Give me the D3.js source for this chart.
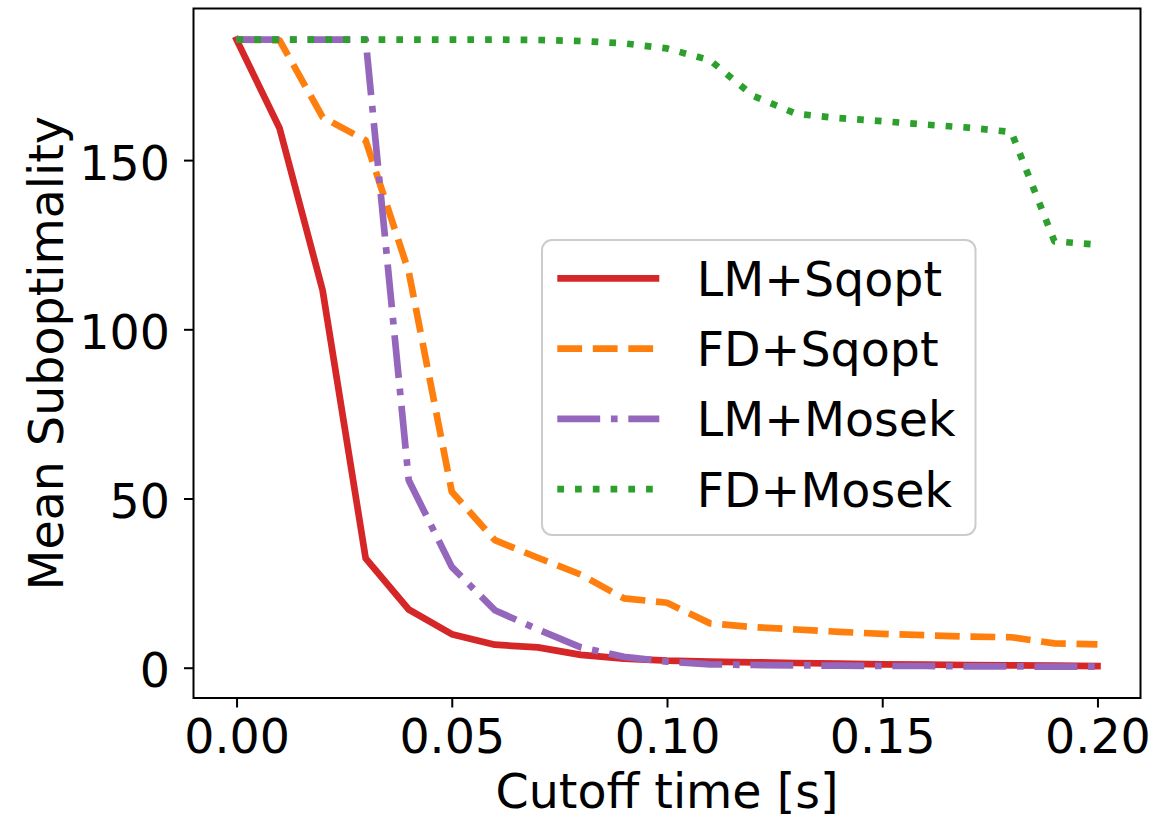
<!DOCTYPE html>
<html>
<head>
<meta charset="utf-8">
<script src="https://cdn.jsdelivr.net/npm/d3@7"></script>
<style>
  body { margin: 0; background: #fff; }
  svg { display: block; }
  text { font-family: "DejaVu Sans", sans-serif; fill: #000; }
</style>
</head>
<body>
<svg id="chart" width="1176" height="815"></svg>
<script>
// ---- data ----
const cutoffTimes = [0.00, 0.01, 0.02, 0.03, 0.04, 0.05, 0.06, 0.07, 0.08, 0.09, 0.10,
                     0.11, 0.12, 0.13, 0.14, 0.15, 0.16, 0.17, 0.18, 0.19, 0.20];
const lmSqopt = [185.6, 159.4, 111.5, 32.3, 17.2, 9.9, 6.8, 6.0, 3.8, 2.7, 2.1,
                 1.8, 1.6, 1.4, 1.2, 1.0, 0.9, 0.8, 0.7, 0.6, 0.5];
const fdSqopt = [185.6, 185.4, 162.7, 155.8, 117.0, 52.0, 37.7, 32.5, 27.5, 20.5, 19.2,
                 13.1, 12.0, 11.3, 10.6, 10.0, 9.6, 9.2, 9.0, 7.2, 6.9];
const lmMosek = [185.6, 185.6, 185.6, 185.6, 55.4, 29.8, 17.0, 11.3, 6.0, 3.2, 1.8,
                 1.0, 0.8, 0.7, 0.6, 0.5, 0.5, 0.4, 0.4, 0.3, 0.3];
const fdMosek = [185.6, 185.6, 185.6, 185.6, 185.6, 185.6, 185.6, 185.5, 185.2, 184.5, 183.0,
                 179.5, 169.0, 163.7, 162.4, 161.5, 160.5, 159.6, 158.3, 126.0, 125.0];
const seriesNames = ["LM+Sqopt", "FD+Sqopt", "LM+Mosek", "FD+Mosek"];
const xTicks = [0.00, 0.05, 0.10, 0.15, 0.20];
const yTicks = [0, 50, 100, 150];
const xLabel = "Cutoff time [s]";
const yLabel = "Mean Suboptimality";

// ---- layout ----
const svg = d3.select("#chart");
const plotLeft = 193.5, plotRight = 1140.5, plotTop = 8.5, plotBottom = 698;
const lw = 6.7;
const fontSize = 47.5;

const x = d3.scaleLinear().domain([-0.01, 0.21]).range([plotLeft, plotRight]);
const y = d3.scaleLinear().domain([-8.95, 194.8]).range([plotBottom, plotTop]);

svg.append("rect").attr("width", 1176).attr("height", 815).attr("fill", "#fff");

const styles = [
  { color: "#d62728", dash: null, cap: "square" },
  { color: "#ff7f0e", dash: [3.7 * lw, 1.6 * lw], cap: "butt" },
  { color: "#9467bd", dash: [6.4 * lw, 1.6 * lw, 1 * lw, 1.6 * lw], cap: "butt" },
  { color: "#2ca02c", dash: [1 * lw, 1.65 * lw], cap: "butt" }
];
const seriesValues = [lmSqopt, fdSqopt, lmMosek, fdMosek];

const line = d3.line()
  .x((d, i) => x(cutoffTimes[i]))
  .y(d => y(d));

seriesValues.forEach((vals, k) => {
  const st = styles[k];
  svg.append("path")
    .datum(vals)
    .attr("d", line)
    .attr("fill", "none")
    .attr("stroke", st.color)
    .attr("stroke-width", lw)
    .attr("stroke-linejoin", "round")
    .attr("stroke-linecap", st.cap)
    .attr("stroke-dasharray", st.dash ? st.dash.join(",") : null);
});

// ---- axes ----
const xAxis = d3.axisBottom(x)
  .tickValues(xTicks)
  .tickFormat(d3.format(".2f"))
  .tickSize(9.5).tickSizeOuter(0).tickPadding(11.5);
const gx = svg.append("g").attr("transform", `translate(0,${plotBottom})`).call(xAxis);

const yAxis = d3.axisLeft(y)
  .tickValues(yTicks)
  .tickFormat(d3.format("d"))
  .tickSize(9.5).tickSizeOuter(0).tickPadding(14);
const gy = svg.append("g").attr("transform", `translate(${plotLeft},0)`).call(yAxis);

[gx, gy].forEach(g => {
  g.select(".domain").remove();
  g.selectAll(".tick line").attr("stroke", "#000").attr("stroke-width", 2);
  g.selectAll(".tick text")
    .attr("font-family", "DejaVu Sans, sans-serif")
    .attr("font-size", fontSize)
    .attr("fill", "#000");
});
gy.selectAll(".tick text").attr("dy", "0.4em");

// frame
svg.append("rect")
  .attr("x", plotLeft).attr("y", plotTop)
  .attr("width", plotRight - plotLeft).attr("height", plotBottom - plotTop)
  .attr("fill", "none").attr("stroke", "#000").attr("stroke-width", 2);

// axis labels
svg.append("text")
  .attr("x", (plotLeft + plotRight) / 2).attr("y", 808)
  .attr("text-anchor", "middle")
  .attr("font-size", fontSize)
  .text(xLabel);

svg.append("text")
  .attr("transform", `translate(63,${(plotTop + plotBottom) / 2}) rotate(-90)`)
  .attr("text-anchor", "middle")
  .attr("font-size", fontSize)
  .text(yLabel);

// ---- legend ----
const lg = svg.append("g");
lg.append("rect")
  .attr("x", 542).attr("y", 240)
  .attr("width", 433.5).attr("height", 295)
  .attr("rx", 10).attr("ry", 10)
  .attr("fill", "#fff").attr("fill-opacity", 0.8)
  .attr("stroke", "#cccccc").attr("stroke-width", 2);

const rowY = [278.3, 348.6, 418.9, 489.2];
seriesNames.forEach((name, k) => {
  const st = styles[k];
  lg.append("line")
    .attr("x1", 557.3).attr("x2", 659.3)
    .attr("y1", rowY[k]).attr("y2", rowY[k])
    .attr("stroke", st.color)
    .attr("stroke-width", lw)
    .attr("stroke-linecap", "butt")
    .attr("stroke-dasharray", st.dash ? st.dash.join(",") : null);
  lg.append("text")
    .attr("x", 696.7).attr("y", rowY[k] + 17.4)
    .attr("font-size", fontSize)
    .text(name);
});
</script>
</body>
</html>
